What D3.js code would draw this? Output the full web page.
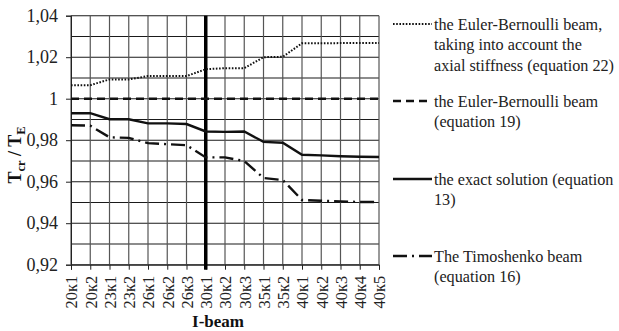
<!DOCTYPE html>
<html>
<head>
<meta charset="utf-8">
<script src="https://cdn.jsdelivr.net/npm/d3@7"></script>
<style>
  html, body { margin: 0; padding: 0; background: #fff; }
  svg { display: block; }
</style>
</head>
<body>
<svg id="chart" width="619" height="331" font-family="Liberation Serif"></svg>
<script>
// I-beam profiles along the x axis
const categories = ["20к1","20к2","23к1","23к2","26к1","26к2","26к3","30к1","30к2","30к3","35к1","35к2","40к1","40к2","40к3","40к4","40к5"];

// Tcr / TE for each beam model
const eulerAxial   = [1.0065,1.0065,1.0093,1.0093,1.0109,1.0109,1.0109,1.0142,1.0147,1.0147,1.0200,1.0202,1.0267,1.0267,1.0268,1.0269,1.0269];
const eulerBern    = [1,1,1,1,1,1,1,1,1,1,1,1,1,1,1,1,1];
const exactSol     = [0.9930,0.9930,0.9901,0.9901,0.9881,0.9881,0.9878,0.9842,0.9840,0.9842,0.9792,0.9788,0.9730,0.9727,0.9723,0.9720,0.9719];
const timoshenko   = [0.9872,0.9870,0.9814,0.9811,0.9786,0.9781,0.9776,0.9717,0.9717,0.9700,0.9618,0.9608,0.9512,0.9508,0.9505,0.9502,0.9502];

// Axis ticks
const yTicks      = [0.92,0.94,0.96,0.98,1,1.02,1.04];
const yTickLabels = ["0,92","0,94","0,96","0,98","1","1,02","1,04"];
const yMinor      = [0.93,0.95,0.97,0.99,1.01,1.03];

const legendItems = [
  { lines: ["the Euler-Bernoulli beam,", "taking into account the", "axial stiffness (equation 22)"], dash: "1.6 1.6", width: 2, y: 24 },
  { lines: ["the Euler-Bernoulli beam", "(equation 19)"], dash: "8 5", width: 2.6, y: 101 },
  { lines: ["the exact solution (equation", "13)"], dash: null, width: 2.4, y: 179 },
  { lines: ["The Timoshenko beam", "(equation 16)"], dash: "14 5 2 5", width: 2.4, y: 256 }
];

const FONT = "Liberation Serif";
const svg = d3.select("#chart");
const plotL = 71, plotR = 379, plotT = 15.7, plotB = 264.7;

const x = d3.scalePoint().domain(categories).range([plotL, plotR]);
const y = d3.scaleLinear().domain([0.92, 1.04]).range([plotB, plotT]);

// Grid: horizontal at every 0.01, vertical at every category
const grid = svg.append("g");
grid.selectAll("line.h").data(yTicks.concat(yMinor)).enter().append("line")
  .attr("x1", plotL).attr("x2", plotR)
  .attr("y1", d => y(d)).attr("y2", d => y(d))
  .attr("stroke", "#1a1a1a").attr("stroke-width", 1.1);
grid.selectAll("line.v").data(categories).enter().append("line")
  .attr("x1", d => x(d)).attr("x2", d => x(d))
  .attr("y1", plotT).attr("y2", plotB)
  .attr("stroke", "#555").attr("stroke-width", 1.2);

// Left axis
const yAxis = d3.axisLeft(y).tickValues(yTicks)
  .tickFormat((d, i) => yTickLabels[i]).tickSize(5).tickPadding(8);
const gy = svg.append("g").attr("transform", `translate(${plotL},0)`).call(yAxis)
  .attr("font-family", FONT);
gy.select(".domain").attr("stroke", "#222");
gy.selectAll(".tick line").attr("stroke", "#222");
gy.selectAll(".tick text").attr("font-size", 18).attr("font-family", FONT).attr("fill", "#222");

// Bottom axis
const xAxis = d3.axisBottom(x).tickSize(5).tickPadding(6);
const gx = svg.append("g").attr("transform", `translate(0,${plotB})`).call(xAxis)
  .attr("font-family", FONT);
gx.select(".domain").attr("stroke", "#222");
gx.selectAll(".tick line").attr("stroke", "#222");
gx.selectAll(".tick text")
  .attr("font-size", 16.5).attr("font-family", FONT).attr("fill", "#222")
  .attr("text-anchor", "end")
  .attr("transform", "rotate(-90)")
  .attr("x", -11).attr("y", 0).attr("dy", "0.35em");

// Heavy vertical line crossing at 30к1
svg.append("line")
  .attr("x1", x("30к1")).attr("x2", x("30к1"))
  .attr("y1", plotT).attr("y2", plotB + 5)
  .attr("stroke", "#000").attr("stroke-width", 3.5);

// Series lines
const line = d3.line().x((d, i) => x(categories[i])).y(d => y(d));
const series = [
  { data: eulerAxial, dash: "1.6 1.6", width: 2 },
  { data: eulerBern, dash: "8 5", width: 2.6 },
  { data: exactSol, dash: null, width: 2.4 },
  { data: timoshenko, dash: "14 5 2 5", width: 2.4 }
];
svg.append("g").selectAll("path").data(series).enter().append("path")
  .attr("d", d => line(d.data))
  .attr("fill", "none").attr("stroke", "#111")
  .attr("stroke-width", d => d.width)
  .attr("stroke-dasharray", d => d.dash);

// Axis titles
svg.append("text")
  .attr("x", 218).attr("y", 327).attr("font-family", FONT).attr("fill", "#111")
  .attr("text-anchor", "middle").attr("font-size", 17).attr("font-weight", "bold")
  .text("I-beam");

const yt = svg.append("text")
  .attr("transform", "translate(21,155) rotate(-90)").attr("font-family", FONT).attr("fill", "#111")
  .attr("text-anchor", "middle").attr("font-size", 18).attr("font-weight", "bold");
yt.append("tspan").text("T");
yt.append("tspan").attr("font-size", 12.5).attr("dy", 4).text("cr");
yt.append("tspan").attr("dy", -4).text(" / T");
yt.append("tspan").attr("font-size", 12.5).attr("dy", 4).text("E");

// Legend
const lg = svg.append("g");
legendItems.forEach(item => {
  lg.append("line")
    .attr("x1", 393).attr("x2", 432)
    .attr("y1", item.y).attr("y2", item.y)
    .attr("stroke", "#111").attr("stroke-width", item.width)
    .attr("stroke-dasharray", item.dash);
  const t = lg.append("text").attr("x", 434).attr("y", item.y)
    .attr("font-size", 16.2).attr("font-family", FONT).attr("fill", "#222");
  item.lines.forEach((s, i) => {
    t.append("tspan").attr("x", 434).attr("y", item.y + i * 20.5).attr("dy", "0.35em").text(s);
  });
});
</script>
</body>
</html>
